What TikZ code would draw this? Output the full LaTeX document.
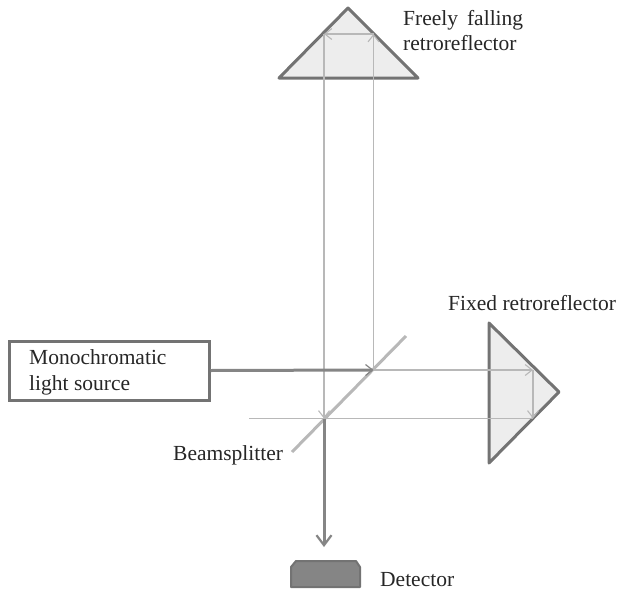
\documentclass[tikz,border=0pt]{standalone}
\usepackage{fontspec}
\setmainfont{Liberation Serif}
\usetikzlibrary{arrows.meta}
\definecolor{prismgray}{gray}{0.45}
\definecolor{prismfill}{gray}{0.93}
\definecolor{beamgray}{gray}{0.72}
\definecolor{stronggray}{gray}{0.52}
\definecolor{textgray}{gray}{0.15}
\tikzset{
  prism/.style={draw=prismgray,fill=prismfill,line width=3pt,line join=round},
  beam/.style={draw=beamgray,line width=1.2pt},
  beamtip/.style={beam,-{Straight Barb[length=7pt,width=11pt,line width=1.1pt]}},
  strong/.style={draw=stronggray,line width=3pt},
  lab/.style={font=\fontsize{21.5}{25}\selectfont,text=textgray,inner sep=0pt,align=left}
}
\begin{document}
\begin{tikzpicture}[x=1pt,y=-1pt]
\useasboundingbox (0,0) rectangle (619,592);
% prisms
\draw[prism] (348,8) -- (418,78) -- (279,78) -- cycle;
\draw[prism] (489,323) -- (559,392) -- (489,463) -- cycle;
% coordinates
\coordinate (tl) at (324,34);
\coordinate (tr) at (373.5,34);
\coordinate (bsA) at (373.5,370);
\coordinate (bsB) at (324,418.5);
\coordinate (fa) at (533,370);
\coordinate (fb) at (533,418.5);
\coordinate (fe) at (249,418.5);
\coordinate (sa) at (292,452);
\coordinate (sb) at (406,336);
\coordinate (dt) at (324,547);
% source
\node[draw=prismgray,line width=3pt,minimum width=200pt,minimum height=59pt,inner sep=0pt] (src) at (109,370.5) {};
\node[lab,anchor=base west] (srctxt1) at (29,364) {Monochromatic};
\node[lab,anchor=base west] (srctxt2) at (29,390) {light source};
% splitter
\draw[draw=beamgray,line width=3pt] (sa) -- (sb);
% beams
\draw[beamtip] (bsA) -- (tr);
\draw[beamtip] (tr) -- (tl);
\draw[beamtip] (tl) -- (bsB);
\draw[beamtip] (bsA) -- (fa);
\draw[beamtip] (fa) -- (fb);
\draw[beam] (fb) -- (fe);
% strong beams
\draw[strong,-{Straight Barb[length=7pt,width=11pt,line width=1.2pt]}] (src.east) -- (bsA);
\draw[strong,-{Straight Barb[length=10pt,width=15pt,line width=2.2pt]}] (bsB) -- (dt);
% detector
\draw[draw=prismgray,fill=stronggray,line width=2pt,line join=round] (291,587) -- (291,567) -- (296,561) -- (356,561) -- (360,567) -- (360,587) -- cycle;
% labels
\node[lab,anchor=base west] (fall1) at (403,25) {Freely\, falling};
\node[lab,anchor=base west] (fall2) at (403,50) {retroreflector};
\node[lab,anchor=base west] (fixed) at (448,310) {Fixed retroreflector};
\node[lab,anchor=base west] (bs) at (173,460) {Beamsplitter};
\node[lab,anchor=base west] (dettxt) at (380,586) {Detector};
\end{tikzpicture}
\end{document}
